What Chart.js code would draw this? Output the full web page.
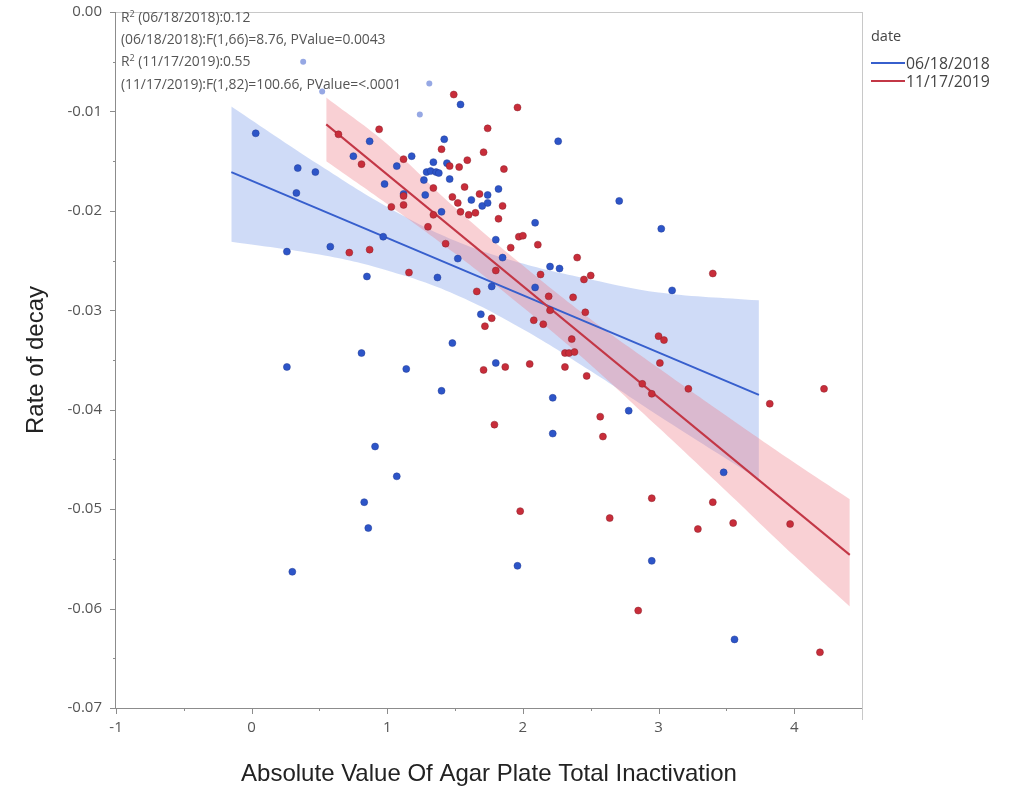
<!DOCTYPE html>
<html>
<head>
<meta charset="utf-8">
<script src="https://cdn.jsdelivr.net/npm/chart.js@4"></script>
<style>
  html, body { margin: 0; padding: 0; background: #fff; }
  #wrap { position: relative; width: 1012px; height: 793px; overflow: hidden; }
  #c { position: absolute; left: 0; top: 0; }
  .note { position: absolute; left: 121px; top: 6px; font-family: "Open Sans", sans-serif; font-size: 13.9px; color: #555; line-height: 22.2px; white-space: nowrap; letter-spacing: -0.05px; }
  .note sup { font-size: 9px; vertical-align: 5px; line-height: 0; }
  .legend { position: absolute; left: 871px; top: 27px; font-family: "Open Sans", sans-serif; font-size: 15.8px; color: #444; line-height: 18.5px; white-space: nowrap; }
  .legend .ttl { margin-bottom: 8px; font-size: 14.5px; }
  .legend .item { display: flex; align-items: center; }
  .legend .sw { display: inline-block; width: 34px; height: 2px; margin-right: 1px; }
</style>
</head>
<body>
<div id="wrap">
  <canvas id="c" width="1012" height="793"></canvas>
  <div class="note" id="note"></div>
  <div class="legend" id="legend"></div>
</div>
<script>
// ---------- data ----------
const seriesNames = ['06/18/2018', '11/17/2019'];
const legendTitle = 'date';
const xTickLabels = [-1, 0, 1, 2, 3, 4];
const yTickLabels = [0, -0.01, -0.02, -0.03, -0.04, -0.05, -0.06, -0.07];
const xTitle = 'Absolute Value Of Agar Plate Total Inactivation';
const yTitle = 'Rate of decay';
const noteLines = [
  'R<sup>2</sup> (06/18/2018):0.12',
  '(06/18/2018):F(1,66)=8.76, PValue=0.0043',
  'R<sup>2</sup> (11/17/2019):0.55',
  '(11/17/2019):F(1,82)=100.66, PValue=&lt;.0001'
];

// 06/18/2018 points
const blueX = [0.03,0.34,0.47,0.33,0.26,0.58,0.26,0.30,0.81,0.85,0.83,0.86,0.91,1.07,1.14,0.97,0.87,0.75,1.07,1.18,0.98,1.12,
  1.54,2.26,1.42,1.34,1.44,1.29,1.32,1.36,1.38,1.27,1.46,1.82,1.28,1.74,1.62,1.70,1.74,2.09,1.40,1.80,2.71,3.02,3.10,1.85,1.52,
  1.37,2.20,2.27,2.09,1.77,1.69,1.48,1.80,1.40,2.22,2.78,2.22,3.48,2.95,3.56,1.96];
const blueY = [-0.0122,-0.0157,-0.0161,-0.0182,-0.0241,-0.0236,-0.0357,-0.0563,-0.0343,-0.0266,-0.0493,-0.0519,-0.0437,-0.0467,-0.0359,-0.0226,-0.0130,-0.0145,-0.0155,-0.0145,-0.0173,-0.0183,
  -0.0093,-0.0130,-0.0128,-0.0151,-0.0152,-0.0161,-0.0160,-0.0161,-0.0162,-0.0169,-0.0168,-0.0178,-0.0184,-0.0184,-0.0189,-0.0195,-0.0192,-0.0212,-0.0201,-0.0229,-0.0190,-0.0218,-0.0280,-0.0247,-0.0248,
  -0.0267,-0.0256,-0.0258,-0.0277,-0.0276,-0.0304,-0.0333,-0.0353,-0.0381,-0.0388,-0.0401,-0.0424,-0.0463,-0.0552,-0.0631,-0.0557];
// faint (excluded) 06/18/2018 points
const fadedX = [0.38, 0.52, 1.31, 1.24];
const fadedY = [-0.0050, -0.0080, -0.0072, -0.0103];

// 11/17/2019 points
const redX = [1.49,1.96,1.74,1.40,1.71,1.12,1.46,1.59,1.53,1.86,1.34,1.57,1.12,1.48,1.68,1.52,1.85,1.12,1.54,1.60,1.65,1.82,1.34,1.30,
  1.97,2.00,2.11,1.43,1.91,2.50,2.45,2.46,3.00,3.04,3.40,2.40,2.13,1.80,1.66,2.19,2.37,2.20,1.77,1.72,2.08,2.15,2.36,2.31,2.34,2.38,
  3.01,1.87,1.71,2.05,2.31,2.47,3.22,2.88,2.95,1.79,2.57,2.59,3.82,4.22,2.95,3.40,2.64,3.29,3.55,3.97,2.85,4.19,1.98,1.16,0.94,0.64,
  0.81,1.03,0.72,0.87];
const redY = [-0.0083,-0.0096,-0.0117,-0.0138,-0.0141,-0.0148,-0.0155,-0.0149,-0.0156,-0.0158,-0.0177,-0.0176,-0.0185,-0.0186,-0.0183,-0.0192,-0.0195,-0.0194,-0.0201,-0.0204,-0.0202,-0.0208,-0.0204,-0.0216,
  -0.0226,-0.0225,-0.0234,-0.0233,-0.0237,-0.0265,-0.0269,-0.0302,-0.0326,-0.0330,-0.0263,-0.0247,-0.0264,-0.0260,-0.0281,-0.0286,-0.0287,-0.0300,-0.0308,-0.0316,-0.0310,-0.0314,-0.0329,-0.0343,-0.0343,-0.0342,
  -0.0353,-0.0357,-0.0360,-0.0354,-0.0357,-0.0366,-0.0379,-0.0374,-0.0384,-0.0415,-0.0407,-0.0427,-0.0394,-0.0379,-0.0489,-0.0493,-0.0509,-0.0520,-0.0514,-0.0515,-0.0602,-0.0644,-0.0502,-0.0262,-0.0118,-0.0123,
  -0.0153,-0.0196,-0.0242,-0.0239];

// fitted lines and confidence bands
const blueFitX = [-0.15, 3.74];
const blueFitY = [-0.0161, -0.0385];
const blueBandX = [-0.15, 0.5, 1.0, 1.5, 2.0, 2.5, 3.0, 3.74];
const blueBandUpper = [-0.0095, -0.0154, -0.0196, -0.0230, -0.0253, -0.0269, -0.0282, -0.0290];
const blueBandLower = [-0.0231, -0.0244, -0.0260, -0.0284, -0.0319, -0.0361, -0.0406, -0.0470];

const redFitX = [0.55, 4.41];
const redFitY = [-0.0113, -0.0546];
const redBandX = [0.55, 1.0, 1.5, 2.0, 2.5, 3.0, 3.5, 4.0, 4.41];
const redBandUpper = [-0.0086, -0.0133, -0.0197, -0.0255, -0.0309, -0.0358, -0.0406, -0.0453, -0.0490];
const redBandLower = [-0.0150, -0.0193, -0.0243, -0.0297, -0.0355, -0.0418, -0.0482, -0.0547, -0.0598];

// ---------- styling ----------
const BLUE = 'rgb(45,85,200)';
const RED = 'rgb(200,45,58)';
const BLUE_LINE = 'rgb(55,95,205)';
const RED_LINE = 'rgb(195,55,70)';
const BLUE_BAND = 'rgba(110,145,230,0.33)';
const RED_BAND = 'rgba(238,120,132,0.35)';

const pts = (xs, ys) => xs.map((x, i) => ({ x: x, y: ys[i] }));

document.getElementById('note').innerHTML = noteLines.join('<br>');
document.getElementById('legend').innerHTML =
  '<div class="ttl">' + legendTitle + '</div>' +
  '<div class="item"><span class="sw" style="background:' + BLUE_LINE + '"></span>' + seriesNames[0] + '</div>' +
  '<div class="item"><span class="sw" style="background:' + RED_LINE + '"></span>' + seriesNames[1] + '</div>';

const PLOT_LEFT = 116, PLOT_RIGHT = 862, PLOT_TOP = 12, PLOT_BOTTOM = 708;
const AXIS = '#8c8c8c';

const framePlugin = {
  id: 'frame',
  afterDraw(chart) {
    const ctx = chart.ctx, a = chart.chartArea;
    const xs = chart.scales.x, ys = chart.scales.y;
    ctx.save();
    ctx.strokeStyle = '#c8c8c8';
    ctx.lineWidth = 1;
    ctx.beginPath();
    ctx.moveTo(a.left, a.top + 0.5); ctx.lineTo(a.right, a.top + 0.5);
    ctx.moveTo(a.right + 0.5, a.top); ctx.lineTo(a.right + 0.5, a.bottom + 12);
    ctx.stroke();
    ctx.strokeStyle = AXIS;
    ctx.beginPath();
    ctx.moveTo(a.left - 0.5, a.top); ctx.lineTo(a.left - 0.5, a.bottom);
    ctx.moveTo(a.left, a.bottom + 0.5); ctx.lineTo(a.right, a.bottom + 0.5);
    for (let i = 0; i < xTickLabels.length; i++) {
      const v = xTickLabels[i];
      const px = Math.round(xs.getPixelForValue(v)) + 0.5;
      ctx.moveTo(px, a.bottom); ctx.lineTo(px, a.bottom + 6);
      const m = Math.round(xs.getPixelForValue(v + 0.5)) + 0.5;
      if (m < a.right) { ctx.moveTo(m, a.bottom); ctx.lineTo(m, a.bottom + 3); }
    }
    for (let i = 0; i < yTickLabels.length; i++) {
      const v = yTickLabels[i];
      const py = Math.round(ys.getPixelForValue(v)) + 0.5;
      ctx.moveTo(a.left, py); ctx.lineTo(a.left - 6, py);
      if (i < yTickLabels.length - 1) {
        const m = Math.round(ys.getPixelForValue(v - 0.005)) + 0.5;
        ctx.moveTo(a.left, m); ctx.lineTo(a.left - 3, m);
      }
    }
    ctx.stroke();
    ctx.restore();
  }
};

new Chart(document.getElementById('c'), {
  type: 'scatter',
  data: {
    datasets: [
      { type: 'line', label: 'blueBandUpper', data: pts(blueBandX, blueBandUpper), borderWidth: 0, pointRadius: 0,
        backgroundColor: BLUE_BAND, fill: '+1', tension: 0.4, order: 20 },
      { type: 'line', label: 'blueBandLower', data: pts(blueBandX, blueBandLower), borderWidth: 0, pointRadius: 0,
        fill: false, tension: 0.4, order: 20 },
      { type: 'line', label: 'redBandUpper', data: pts(redBandX, redBandUpper), borderWidth: 0, pointRadius: 0,
        backgroundColor: RED_BAND, fill: '+1', tension: 0.4, order: 18 },
      { type: 'line', label: 'redBandLower', data: pts(redBandX, redBandLower), borderWidth: 0, pointRadius: 0,
        fill: false, tension: 0.4, order: 18 },
      { type: 'line', label: seriesNames[0] + ' fit', data: pts(blueFitX, blueFitY), borderColor: BLUE_LINE, borderWidth: 2,
        pointRadius: 0, fill: false, order: 10 },
      { type: 'line', label: seriesNames[1] + ' fit', data: pts(redFitX, redFitY), borderColor: RED_LINE, borderWidth: 2,
        pointRadius: 0, fill: false, order: 9 },
      { label: 'faded', data: pts(fadedX, fadedY), backgroundColor: 'rgb(150,168,228)', borderWidth: 0, pointRadius: 3, order: 5 },
      { label: seriesNames[0], data: pts(blueX, blueY), backgroundColor: BLUE, borderColor: 'rgb(35,60,150)', borderWidth: 0.5, pointRadius: 3.5, order: 4 },
      { label: seriesNames[1], data: pts(redX, redY), backgroundColor: RED, borderColor: 'rgb(140,35,45)', borderWidth: 0.5, pointRadius: 3.5, order: 3 }
    ]
  },
  options: {
    responsive: false,
    animation: false,
    devicePixelRatio: 1,
    layout: { padding: { left: 0, right: 1012 - PLOT_RIGHT, top: PLOT_TOP, bottom: 0 } },
    plugins: { legend: { display: false }, tooltip: { enabled: false } },
    scales: {
      x: {
        type: 'linear', min: -1, max: 4.5,
        grid: { display: false, drawTicks: false }, border: { display: false },
        afterBuildTicks: s => { s.ticks = xTickLabels.map(v => ({ value: v })); },
        afterFit: s => { s.height = 793 - PLOT_BOTTOM; s.paddingLeft = 0; s.paddingRight = 0; },
        ticks: { padding: 11, color: '#555', font: { family: 'Open Sans', size: 15 }, callback: v => String(v) },
        title: { display: true, text: xTitle, color: '#222', font: { family: 'Liberation Sans', size: 24 }, padding: { top: 0, bottom: 4 } }
      },
      y: {
        type: 'linear', min: -0.07, max: 0,
        grid: { display: false, drawTicks: false }, border: { display: false },
        afterBuildTicks: s => { s.ticks = yTickLabels.map(v => ({ value: v })); },
        afterFit: s => { s.width = PLOT_LEFT; s.paddingTop = 0; s.paddingBottom = 0; },
        ticks: { padding: 14, color: '#555', font: { family: 'Open Sans', size: 15 }, callback: v => (Math.abs(v) < 1e-9 ? 0 : v).toFixed(2) },
        title: { display: true, text: yTitle, color: '#222', font: { family: 'Liberation Sans', size: 24 }, padding: { top: 22, bottom: 0 } }
      }
    }
  },
  plugins: [framePlugin]
});
</script>
</body>
</html>
